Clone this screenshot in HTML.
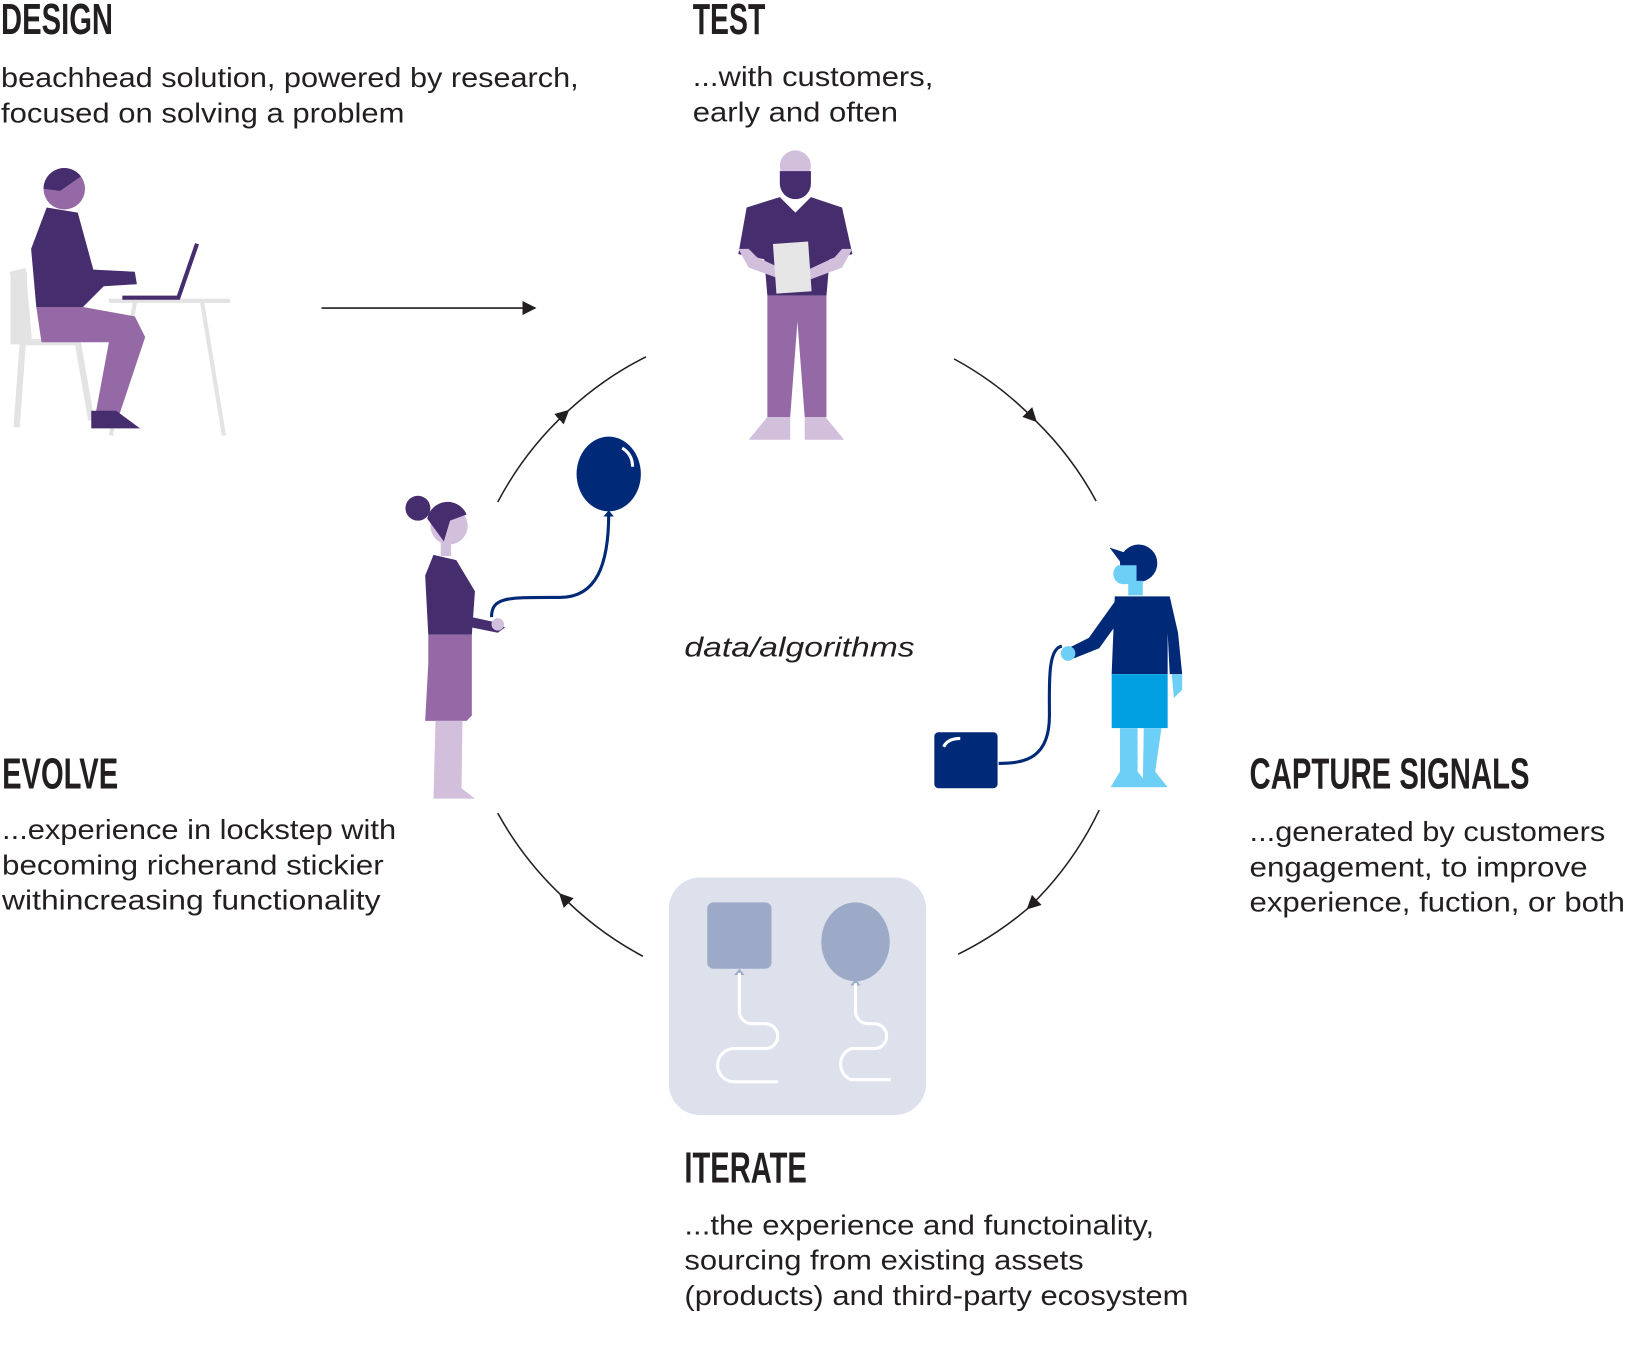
<!DOCTYPE html>
<html><head><meta charset="utf-8"><style>
html,body{margin:0;padding:0;background:#fff;}
svg{display:block}
.h{font-family:"Liberation Sans Narrow","Liberation Sans",sans-serif;font-weight:bold;font-size:42px;fill:#231f20}
.b{font-family:"Liberation Sans","DejaVu Sans",sans-serif;font-size:27px;fill:#231f20}
</style></head><body>
<svg width="1626" height="1366" viewBox="0 0 1568 1317" preserveAspectRatio="none" xmlns="http://www.w3.org/2000/svg">
<defs><marker id="ah" viewBox="0 0 10 10" refX="9" refY="5" markerWidth="9" markerHeight="9" orient="auto"><path d="M0,0L10,5L0,10z" fill="#231f20"/></marker></defs>

<!-- headings -->
<text class="h" x="1" y="33" textLength="108" lengthAdjust="spacingAndGlyphs">DESIGN</text>
<text class="h" x="668" y="33" textLength="70" lengthAdjust="spacingAndGlyphs">TEST</text>
<text class="h" x="2" y="760" textLength="112" lengthAdjust="spacingAndGlyphs">EVOLVE</text>
<text class="h" x="1205" y="760" textLength="270" lengthAdjust="spacingAndGlyphs">CAPTURE SIGNALS</text>
<text class="h" x="660" y="1140" textLength="118" lengthAdjust="spacingAndGlyphs">ITERATE</text>

<text class="b" x="1" y="84" textLength="557" lengthAdjust="spacingAndGlyphs">beachhead solution, powered by research,</text>
<text class="b" x="1" y="118" textLength="389" lengthAdjust="spacingAndGlyphs">focused on solving a problem</text>
<text class="b" x="668" y="83" textLength="232" lengthAdjust="spacingAndGlyphs">...with customers,</text>
<text class="b" x="668" y="117" textLength="198" lengthAdjust="spacingAndGlyphs">early and often</text>
<text class="b" x="2" y="809" textLength="380" lengthAdjust="spacingAndGlyphs">...experience in lockstep with</text>
<text class="b" x="2" y="843" textLength="368" lengthAdjust="spacingAndGlyphs">becoming richerand stickier</text>
<text class="b" x="2" y="877" textLength="365" lengthAdjust="spacingAndGlyphs">withincreasing functionality</text>
<text class="b" x="1205" y="811" textLength="343" lengthAdjust="spacingAndGlyphs">...generated by customers</text>
<text class="b" x="1205" y="845" textLength="326" lengthAdjust="spacingAndGlyphs">engagement, to improve</text>
<text class="b" x="1205" y="879" textLength="362" lengthAdjust="spacingAndGlyphs">experience, fuction, or both</text>
<text class="b" x="660" y="1190" textLength="453" lengthAdjust="spacingAndGlyphs">...the experience and functoinality,</text>
<text class="b" x="660" y="1224" textLength="385" lengthAdjust="spacingAndGlyphs">sourcing from existing assets</text>
<text class="b" x="660" y="1258" textLength="486" lengthAdjust="spacingAndGlyphs">(products) and third-party ecosystem</text>
<text class="b" x="660" y="633" font-style="italic" textLength="222" lengthAdjust="spacingAndGlyphs">data/algorithms</text>

<!-- arrows -->
<line x1="310" y1="297" x2="516" y2="297" stroke="#231f20" stroke-width="1.5" marker-end="url(#ah)"/>
<g fill="none" stroke="#231f20" stroke-width="1.5">
<path d="M480,484 A324,324 0 0 1 548,396" marker-end="url(#ah)"/><path d="M548,396 A324,324 0 0 1 623,344"/>
<path d="M920,346 A324,324 0 0 1 999,406" marker-end="url(#ah)"/><path d="M999,406 A324,324 0 0 1 1057,483"/>
<path d="M1060,781 A324,324 0 0 1 991,876" marker-end="url(#ah)"/><path d="M991,876 A324,324 0 0 1 924,920"/>
<path d="M620,922 A324,324 0 0 1 540,862" marker-end="url(#ah)"/><path d="M540,862 A324,324 0 0 1 480,784"/>
</g>

<!-- design person -->
<g>
<path d="M10,265 L22,262 L28,330 L75,330 L88,405 M22,330 L16,412" stroke="#e3e3e3" stroke-width="6" fill="none"/>
<rect x="10" y="262" width="16" height="70" fill="#e3e3e3"/>
<path d="M105,290 H222 M130,292 L107,420 M195,292 L216,420" stroke="#e3e3e3" stroke-width="4" fill="none"/>
<circle cx="62" cy="182" r="20" fill="#9569a6"/>
<path d="M42,182 a20,20 0 0 1 36,-12 l-20,14 z" fill="#452d6e"/>
<path d="M45,200 L75,205 L90,260 L130,262 L132,274 L100,276 L80,296 L35,296 L30,240 Z" fill="#452d6e"/>
<path d="M35,296 L80,296 L130,305 L140,325 L115,400 L92,400 L105,330 L40,330 Z" fill="#9569a6"/>
<path d="M88,396 L112,396 L135,413 L88,413 Z" fill="#452d6e"/>
<path d="M118,287 L172,287 L190,235" stroke="#452d6e" stroke-width="4" fill="none"/>
</g>

<!-- test person -->
<g>
<circle cx="767" cy="160" r="15" fill="#d1bfdc"/>
<path d="M752,165 h30 v12 a15,15 0 0 1 -30,0 z" fill="#452d6e"/>
<path d="M720,200 L752,190 L767,205 L782,190 L812,200 L822,245 L800,250 L797,285 L740,285 L737,250 L712,245 Z" fill="#452d6e"/>
<path d="M712,240 L722,258 L755,270 L760,262 L730,248 L722,240 Z M822,240 L812,258 L780,270 L775,262 L805,248 L812,240Z" fill="#d1bfdc"/>
<rect x="747" y="234" width="34" height="48" fill="#e6e6e6" transform="rotate(-4 764 258)"/>
<path d="M740,285 H797 L797,402 L776,402 L769,310 L762,402 L740,402 Z" fill="#9569a6"/>
<path d="M740,402 h22 v22 h-40 z M776,402 h20 l18,22 h-38 z" fill="#d1bfdc"/>
</g>

<!-- evolve woman & balloon -->
<g>
<circle cx="403" cy="490" r="12" fill="#452d6e"/>
<circle cx="433" cy="507" r="18" fill="#d1bfdc"/>
<path d="M412,500 a20,20 0 0 1 38,-4 l-16,6 l-6,20 z" fill="#452d6e"/>
<rect x="425" y="522" width="10" height="14" fill="#d1bfdc"/>
<path d="M418,535 L440,540 L458,570 L455,612 L413,612 L410,555 Z" fill="#452d6e"/>
<path d="M455,595 L478,600 L487,605 L480,610 L455,605 Z" fill="#452d6e"/>
<path d="M413,612 H455 V690 L450,695 H410 L413,640 Z" fill="#9569a6"/>
<path d="M420,695 H446 L445,760 L458,770 H418 Z" fill="#d1bfdc"/>
<circle cx="480" cy="602" r="6" fill="#d1bfdc"/>
<path d="M474,595 C474,575 490,576 540,576 C575,576 587,545 587,495" stroke="#002a77" stroke-width="3" fill="none"/>
<ellipse cx="587" cy="457" rx="31" ry="36" fill="#002a77"/>
<path d="M600,432 q10,6 10,18" stroke="#fff" stroke-width="3" fill="none"/>
<path d="M582,498 h10 l-5,-6z" fill="#002a77"/>
</g>

<!-- capture signals boy & box -->
<g>
<circle cx="1098" cy="543" r="18" fill="#002a77"/>
<path d="M1070,528 L1095,536 L1085,548z" fill="#002a77"/>
<path d="M1078,545 h18 v18 h-10 a10,10 0 0 1 -8,-18z" fill="#6dcff6"/>
<rect x="1088" y="560" width="14" height="14" fill="#6dcff6"/>
<path d="M1075,575 L1128,575 L1136,610 L1140,650 L1128,650 L1126,610 V650 H1072 Z" fill="#002a77"/>
<path d="M1075,580 L1050,615 L1030,625 L1035,635 L1060,625 L1078,600Z" fill="#002a77"/>
<circle cx="1030" cy="630" r="7" fill="#6dcff6"/>
<path d="M1130,650 h10 v15 l-8,8z" fill="#6dcff6"/>
<rect x="1072" y="650" width="54" height="52" fill="#00a0e3"/>
<path d="M1080,702 h17 v42 l12,15 h-38 l9,-15z M1103,702 h17 l-6,42 l12,15 h-24z" fill="#6dcff6"/>
<path d="M1024,623 C1010,625 1012,660 1012,690 C1012,730 990,736 963,736" stroke="#002a77" stroke-width="3" fill="none"/>
<rect x="901" y="706" width="61" height="54" rx="4" fill="#002a77"/>
<path d="M910,720 q4,-8 16,-8" stroke="#fff" stroke-width="3" fill="none"/>
</g>

<!-- iterate box -->
<g>
<rect x="645" y="846" width="248" height="229" rx="30" fill="#dde1ec"/>
<rect x="682" y="870" width="62" height="64" rx="6" fill="#9caac8"/>
<ellipse cx="825" cy="908" rx="33" ry="38" fill="#9caac8"/>
<path d="M708,940 h10 l-5,-6z M820,950 h10 l-5,-6z" fill="#9caac8"/>
<path d="M713,938 V975 a12,12 0 0 0 12,12 h13 a12,12 0 0 1 0,24 h-30 a16,16 0 0 0 0,32 h42" stroke="#fff" stroke-width="3" fill="none"/>
<path d="M825,948 V975 a12,12 0 0 0 12,12 h6 a12,12 0 0 1 0,24 h-22 a16,16 0 0 0 0,30 h38" stroke="#fff" stroke-width="3" fill="none"/>
</g>
</svg>
</body></html>
